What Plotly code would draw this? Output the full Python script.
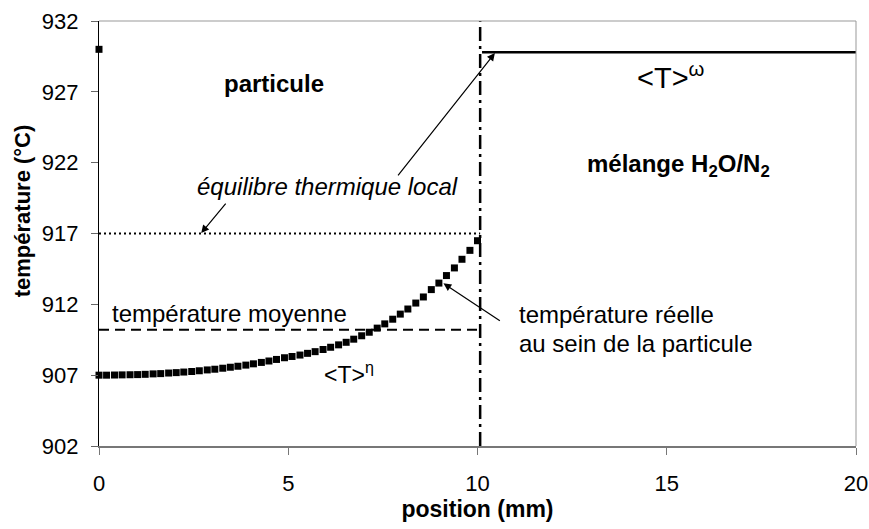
import plotly.graph_objects as go

FONT = "Liberation Sans, Arial, sans-serif"

# Temperature profile inside the particle (markers)
pos_mm = [0.00, 0.20, 0.41, 0.61, 0.82, 1.02, 1.22, 1.43, 1.63, 1.84,
          2.04, 2.24, 2.45, 2.65, 2.86, 3.06, 3.27, 3.47, 3.67, 3.88,
          4.08, 4.29, 4.49, 4.69, 4.90, 5.10, 5.31, 5.51, 5.71, 5.92,
          6.12, 6.33, 6.53, 6.73, 6.94, 7.14, 7.35, 7.55, 7.76, 7.96,
          8.16, 8.37, 8.57, 8.78, 8.98, 9.18, 9.39, 9.59, 9.80, 10.00]
temp_particle = [907.00, 907.00, 907.01, 907.02, 907.03, 907.04, 907.06, 907.09, 907.11, 907.15,
                 907.18, 907.22, 907.26, 907.31, 907.37, 907.42, 907.49, 907.56, 907.63, 907.71,
                 907.80, 907.90, 908.00, 908.11, 908.23, 908.32, 908.42, 908.54, 908.66, 908.81,
                 908.97, 909.14, 909.32, 909.54, 909.78, 910.03, 910.32, 910.62, 910.95, 911.31,
                 911.67, 912.09, 912.52, 913.04, 913.50, 914.03, 914.57, 915.18, 915.81, 916.49]

# Isolated gas temperature point
gas_point_x = [0.0]
gas_point_y = [930.0]

# Gas mixture average temperature <T>^omega
gas_x = [10.12, 20.0]
gas_y = [929.8, 929.8]

# Local thermal equilibrium (dotted) and mean particle temperature (dashed)
eq_x = [0.0, 10.07]
eq_y = [917.0, 917.0]
mean_x = [0.0, 10.07]
mean_y = [910.2, 910.2]

# Particle boundary (dash-dot)
bound_x = [10.07, 10.07]
bound_y = [902.0, 932.0]

x_ticks = [0, 5, 10, 15, 20]
y_ticks = [902, 907, 912, 917, 922, 927, 932]

fig = go.Figure()

fig.add_trace(go.Scatter(x=eq_x, y=eq_y, mode="lines",
                         line=dict(color="black", width=2, dash="2px,3px"),
                         hoverinfo="skip", showlegend=False))
fig.add_trace(go.Scatter(x=mean_x, y=mean_y, mode="lines",
                         line=dict(color="black", width=2, dash="10px,6px"),
                         hoverinfo="skip", showlegend=False))
fig.add_trace(go.Scatter(x=bound_x, y=bound_y, mode="lines",
                         line=dict(color="black", width=2.5, dash="14px,5px,3px,5px"),
                         hoverinfo="skip", showlegend=False, cliponaxis=False))
fig.add_trace(go.Scatter(x=gas_x, y=gas_y, mode="lines",
                         line=dict(color="black", width=2.5),
                         hoverinfo="skip", showlegend=False))
fig.add_trace(go.Scatter(x=pos_mm, y=temp_particle, mode="markers",
                         marker=dict(symbol="square", size=7, color="black"),
                         showlegend=False, cliponaxis=False))
fig.add_trace(go.Scatter(x=gas_point_x, y=gas_point_y, mode="markers",
                         marker=dict(symbol="square", size=7, color="black"),
                         showlegend=False, cliponaxis=False))

ann = []
def txt(x, y, text, size=22, bold=False, italic=False, xanchor="center", yanchor="middle"):
    t = text
    if bold:
        t = "<b>" + t + "</b>"
    if italic:
        t = "<i>" + t + "</i>"
    ann.append(dict(x=x, y=y, xref="x", yref="y", text=t, showarrow=False,
                    xanchor=xanchor, yanchor=yanchor,
                    font=dict(family=FONT, size=size, color="black")))

def arrow(x0, y0, x1, y1):
    ann.append(dict(x=x1, y=y1, ax=x0, ay=y0, xref="x", yref="y", axref="x", ayref="y",
                    text="", showarrow=True, arrowhead=2, arrowsize=1.3, arrowwidth=1.2,
                    arrowcolor="black", standoff=0))

txt(4.62, 927.6, "particule", size=24, bold=True)
txt(6.05, 920.3, "équilibre thermique local", size=24, italic=True)
txt(3.45, 911.32, "température moyenne", size=24)
txt(6.6, 907.15, "&lt;T&gt;<sup>η</sup>", size=23)
txt(15.1, 928.1, "&lt;T&gt;<sup>ω</sup>", size=29)
txt(15.32, 921.83, "mélange H<sub>2</sub>O/N<sub>2</sub>", size=24, bold=True)
txt(11.04, 911.25, "température réelle", size=24, xanchor="left")
txt(11.04, 909.27, "au sein de la particule", size=24, xanchor="left")

arrow(7.87, 920.99, 10.46, 929.74)
arrow(3.38, 919.22, 2.70, 917.03)
arrow(10.63, 910.77, 9.10, 913.48)

# y-axis title as annotation (offset upward like the reference)
ann.append(dict(x=-0.10, y=0.553, xref="paper", yref="paper", text="<b>température (°C)</b>",
                textangle=-90, showarrow=False, xanchor="center", yanchor="middle",
                font=dict(family=FONT, size=22, color="black")))

fig.update_layout(
    template="none",
    width=869, height=529,
    margin=dict(l=99, r=13, t=21, b=83, autoexpand=False),
    paper_bgcolor="white", plot_bgcolor="white",
    font=dict(family=FONT, size=22, color="black"),
    annotations=ann,
    shapes=[
        dict(type="line", xref="paper", yref="paper", x0=0, x1=1, y0=1, y1=1,
             line=dict(color="#999999", width=1)),
        dict(type="line", xref="paper", yref="paper", x0=1, x1=1, y0=0, y1=1,
             line=dict(color="#999999", width=1)),
    ],
)

fig.update_xaxes(range=[0, 20], tickvals=x_ticks, showgrid=False, zeroline=False,
                 automargin=False,
                 showline=True, linecolor="#777777", linewidth=1.5,
                 ticks="outside", ticklen=7, tickcolor="#777777",
                 ticklabelstandoff=10,
                 tickfont=dict(family=FONT, size=22, color="black"),
                 title=dict(text="<b>position (mm)</b>", standoff=2,
                            font=dict(family=FONT, size=23, color="black")))
fig.update_yaxes(range=[902, 932], tickvals=y_ticks, showgrid=False, zeroline=False,
                 automargin=False,
                 showline=True, linecolor="black", linewidth=1.2,
                 ticks="outside", ticklen=7, tickcolor="#666666",
                 ticklabelstandoff=8,
                 tickfont=dict(family=FONT, size=22, color="black"))

fig.write_html("out.html", config={"responsive": False, "displayModeBar": False},
               post_script="document.body.style.margin='0';document.body.style.overflow='hidden';")
